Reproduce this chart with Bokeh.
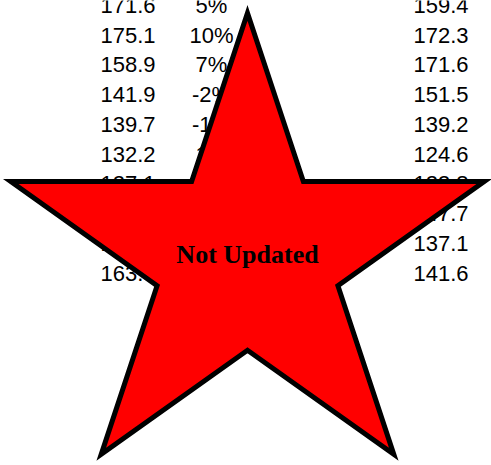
import numpy as np
from bokeh.plotting import figure
from bokeh.models import Range1d
from bokeh.core.properties import value
from bokeh.embed import file_html
from bokeh.resources import INLINE

# ---- data (rows of the table, top to bottom) ----
col1_values = ["171.6", "175.1", "158.9", "141.9", "139.7", "132.2", "127.1", "149.8", "157.3", "163.5"]
col2_values = ["5%", "10%", "7%", "-2%", "-1%", "1%", "-4%", "3%", "6%", "2%"]
col3_values = ["159.4", "172.3", "171.6", "151.5", "139.2", "124.6", "123.8", "147.7", "137.1", "141.6"]
stamp_text = "Not Updated"

W, H = 491, 465
row_top = 4.75       # first row position (px)
row_step = 29.75     # row spacing (px)

p = figure(width=W, height=H, output_backend="svg", toolbar_location=None,
           x_range=Range1d(0, W),
           y_range=Range1d((H - row_top) / row_step, -row_top / row_step),
           min_border=0, border_fill_color="white", background_fill_color="white")
p.axis.visible = False
p.xgrid.visible = False
p.ygrid.visible = False
p.outline_line_color = None
p.styles = {"position": "absolute", "left": "0px", "top": "0px"}

p.extra_y_ranges = {"px": Range1d(H, 0)}

rows = list(range(len(col1_values)))
font = value("Liberation Sans")

p.text(x=[155] * len(rows), y=rows, text=col1_values, text_font=font,
       text_font_size="22px", text_align="right", text_baseline="alphabetic",
       text_color="black")
p.text(x=[211] * len(rows), y=rows, text=col2_values, text_font=font,
       text_font_size="22px", text_align="center", text_baseline="alphabetic",
       text_color="black")
p.text(x=[468] * len(rows), y=rows, text=col3_values, text_font=font,
       text_font_size="22px", text_align="right", text_baseline="alphabetic",
       text_color="black")

# ---- star stamp ----
cx, cy, R, sx = 247.0, 256.5, 244.0, 1.02
r = R * 0.382
ang = np.deg2rad(90 - 36 * np.arange(10))
rad = np.where(np.arange(10) % 2 == 0, R, r)
xs = cx + sx * rad * np.cos(ang)
ys = cy - rad * np.sin(ang)
p.patch(x=list(xs), y=list(ys), y_range_name="px", fill_color="#ff0000",
        line_color="black", line_width=5, line_join="miter")

p.text(x=[cx], y=[254], y_range_name="px", text=[stamp_text],
       text_font=value("Liberation Serif"), text_font_style="bold",
       text_font_size="26px", text_align="center", text_baseline="alphabetic",
       text_color="black")

open("out.html", "w").write(file_html(p, INLINE))
